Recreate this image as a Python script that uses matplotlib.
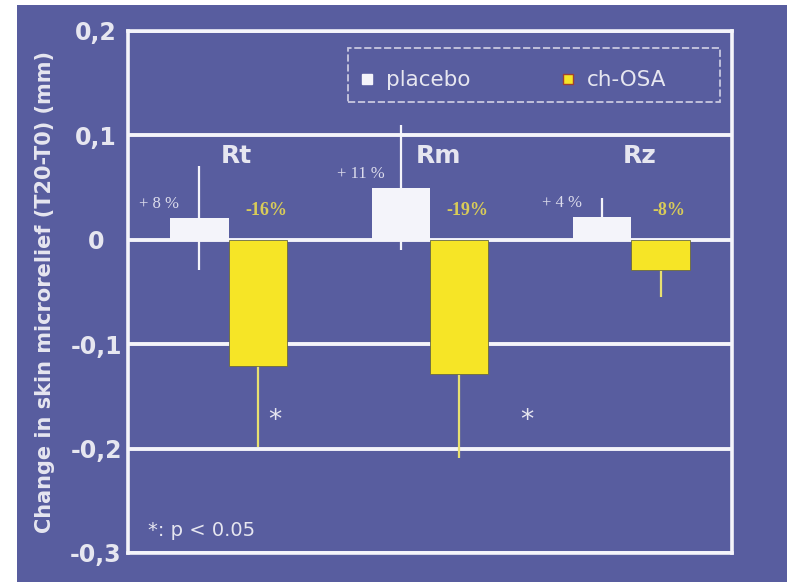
import numpy as np
import matplotlib
matplotlib.use("Agg")
from matplotlib import pyplot as plt
from matplotlib.lines import Line2D
from matplotlib.patches import Rectangle

categories = ["Rt", "Rm", "Rz"]
placebo = [0.021, 0.050, 0.022]
placebo_err = [0.050, 0.060, 0.018]
ch_osa = [-0.121, -0.129, -0.029]
ch_osa_err = [0.077, 0.080, 0.026]
placebo_pct = ["+ 8 %", "+ 11 %", "+ 4 %"]
ch_osa_pct = ["-16%", "-19%", "-8%"]
ytick_vals = [0.2, 0.1, 0.0, -0.1, -0.2, -0.3]
ytick_labels = ["0,2", "0,1", "0", "-0,1", "-0,2", "-0,3"]

BG = "#585d9f"
WHITE = "#f4f4fa"
YELLOW = "#f6e526"
TXT = "#e6e6f0"

plt.rcParams["font.family"] = ["DejaVu Sans"]

fig = plt.figure(figsize=(7.87, 5.82), dpi=100, facecolor="white")
# blue panel (scanned image leaves a white strip on left/top)
fig.patches.append(Rectangle((17 / 787, 0), 1, 1 - 5 / 582, transform=fig.transFigure,
                             facecolor=BG, edgecolor="none", zorder=-10))

ax = fig.add_axes([128 / 787, 1 - 553 / 582, 604 / 787, 522 / 582])
ax.set_facecolor(BG)

x = np.arange(len(categories))
width = 0.29

for v in ytick_vals:
    ax.axhline(v, color=WHITE, lw=2.8, zorder=1)

ax.bar(x - width / 2, placebo, width, color=WHITE, zorder=3)
ax.bar(x + width / 2, ch_osa, width, color=YELLOW, edgecolor="#6a6a40", lw=0.6, zorder=3)
ax.errorbar(x - width / 2, placebo, yerr=placebo_err, fmt="none", ecolor=WHITE,
            elinewidth=1.6, capsize=0, zorder=2)
ax.errorbar(x + width / 2, ch_osa, yerr=ch_osa_err, fmt="none", ecolor="#e8e070",
            elinewidth=1.6, capsize=0, zorder=2)

for i, cat in enumerate(categories):
    ax.text(i + 0.04, 0.080, cat, color=TXT, fontsize=18, fontweight="bold",
            ha="center", va="center")
    ax.text(i - width / 2 - 0.2, placebo[i] + 0.013, placebo_pct[i], color="#dcdcec",
            fontsize=12, family="Liberation Serif", ha="center", va="center")
    ax.text(i + width / 2 + 0.04, 0.028, ch_osa_pct[i], color="#d9cc58", fontsize=13,
            family="Liberation Serif", fontweight="bold", ha="center", va="center")

# significance marks (Rt and Rm ch-OSA)
for sx in [0.23, 1.48]:
    ax.text(sx, -0.174, "*", color=TXT, fontsize=19, ha="center", va="center")

ax.text(0.033, 0.044, "*: p < 0.05", color=TXT, fontsize=14, ha="left", va="center",
        transform=ax.transAxes)

ax.set_xlim(-0.5, 2.5)
ax.set_ylim(-0.3, 0.2)
ax.set_xticks([])
ax.set_yticks(ytick_vals, ytick_labels)
ax.tick_params(axis="y", length=0, pad=23, labelcolor=TXT, labelsize=17)
for lab in ax.get_yticklabels():
    lab.set_fontweight("bold")
    lab.set_horizontalalignment("center")
for s in ax.spines.values():
    s.set_color(WHITE)
    s.set_linewidth(2.6)

ax.set_ylabel("Change in skin microrelief (T20-T0) (mm)", color=TXT, fontsize=15,
              fontweight="bold", labelpad=11)

# legend frame drawn separately, entries placed inside
ax.add_patch(Rectangle((0.364, 0.864), 0.616, 0.103, transform=ax.transAxes,
                       facecolor="none", edgecolor="#c8c8e0", lw=1.3,
                       linestyle=(0, (4, 1.5)), zorder=4))
handles = [
    Line2D([], [], marker="s", ls="none", markersize=7, markerfacecolor=WHITE, markeredgecolor=WHITE),
    Line2D([], [], marker="s", ls="none", markersize=7.5, markerfacecolor=YELLOW, markeredgecolor="#a04030"),
]
leg = ax.legend(handles, ["placebo", "ch-OSA"], ncol=2, loc="center left",
                bbox_to_anchor=(0.385, 0.906), frameon=False, fontsize=15.5,
                handlelength=0.6, handletextpad=0.6, columnspacing=4.2,
                borderpad=0, borderaxespad=0)
for t in leg.get_texts():
    t.set_color(TXT)

fig.savefig("out.png", dpi=100, facecolor=fig.get_facecolor())
